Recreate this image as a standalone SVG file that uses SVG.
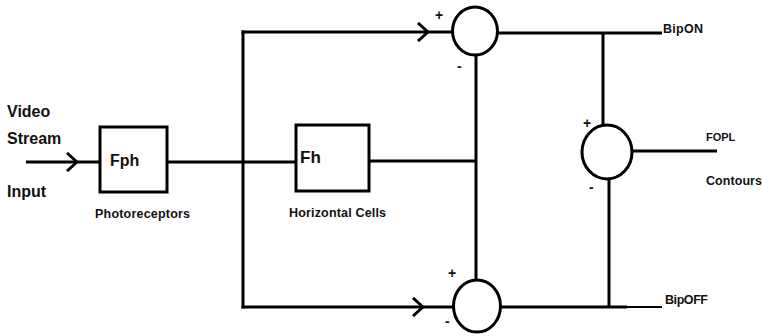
<svg xmlns="http://www.w3.org/2000/svg" width="762" height="336" viewBox="0 0 762 336">
<style>
.w{stroke:#000;stroke-width:3;fill:none}
.b{stroke:#000;stroke-width:3;fill:#fff}
.t{font-family:"Liberation Sans",Arial,sans-serif;font-weight:bold;fill:#111}
.s{font-size:12.5px}
.p{font-size:14px}
.m{font-size:16px}
.big{font-size:16px}
</style>
<defs>
<marker id="chev" viewBox="0 0 12 20" refX="11" refY="10" markerWidth="12" markerHeight="20" markerUnits="userSpaceOnUse" orient="auto">
<path d="M1,1 L11,10 L1,19" fill="none" stroke="#000" stroke-width="3"/>
</marker>
</defs>
<rect width="762" height="336" fill="#fff"/>
<g id="connectors">
<line class="w" x1="26" y1="162" x2="77" y2="162" marker-end="url(#chev)"/>
<line class="w" x1="77" y1="162" x2="100" y2="162"/>
<line class="w" x1="167" y1="162" x2="296" y2="162"/>
<line class="w" x1="243" y1="30.5" x2="243" y2="308.5"/>
<line class="w" x1="241.5" y1="32" x2="428" y2="32" marker-end="url(#chev)"/>
<line class="w" x1="428" y1="32" x2="452" y2="32"/>
<line class="w" x1="241.5" y1="307" x2="423" y2="307" marker-end="url(#chev)"/>
<line class="w" x1="423" y1="307" x2="453" y2="307"/>
<line class="w" x1="369" y1="161" x2="476" y2="161"/>
<line class="w" x1="476" y1="55" x2="476" y2="280"/>
<line class="w" x1="497" y1="33" x2="662" y2="33"/>
<line class="w" x1="603" y1="33" x2="603" y2="125"/>
<line class="w" x1="500" y1="307" x2="627" y2="307"/>
<line stroke="#000" stroke-width="2" x1="627" y1="307" x2="662" y2="307"/>
<line class="w" x1="609" y1="179" x2="609" y2="307"/>
<line class="w" x1="632" y1="151" x2="717" y2="151"/>
</g>
<g id="input">
<text class="t big" x="7" y="117">Video</text>
<text class="t big" x="7" y="144">Stream</text>
<text class="t big" x="7" y="197">Input</text>
</g>
<g id="fph">
<rect class="b" x="100" y="127" width="67" height="65"/>
<text class="t m" x="110" y="166">Fph</text>
<text class="t s" x="95" y="218" textLength="95">Photoreceptors</text>
</g>
<g id="fh">
<rect class="b" x="296" y="125" width="73" height="66"/>
<text class="t" x="300" y="163" style="font-size:17px">Fh</text>
<text class="t s" x="289" y="217" textLength="97">Horizontal Cells</text>
</g>
<g id="sum-on">
<ellipse class="b" cx="475" cy="31" rx="22.5" ry="24"/>
<text class="t p" x="435" y="20">+</text>
<text class="t p" x="457" y="71">-</text>
</g>
<g id="sum-off">
<ellipse class="b" cx="477" cy="306" rx="23.5" ry="26"/>
<text class="t p" x="448" y="278">+</text>
<text class="t p" x="445" y="326">-</text>
</g>
<g id="sum-fopl">
<ellipse class="b" cx="607" cy="152" rx="25" ry="27"/>
<text class="t p" x="583" y="128">+</text>
<text class="t p" x="589" y="192">-</text>
</g>
<g id="labels">
<text class="t s" x="663" y="33" textLength="40">BipON</text>
<text class="t s" x="665" y="304" textLength="43">BipOFF</text>
<text class="t" x="706" y="141" style="font-size:11px">FOPL</text>
<text class="t s" x="706" y="185" textLength="56">Contours</text>
</g>
</svg>
